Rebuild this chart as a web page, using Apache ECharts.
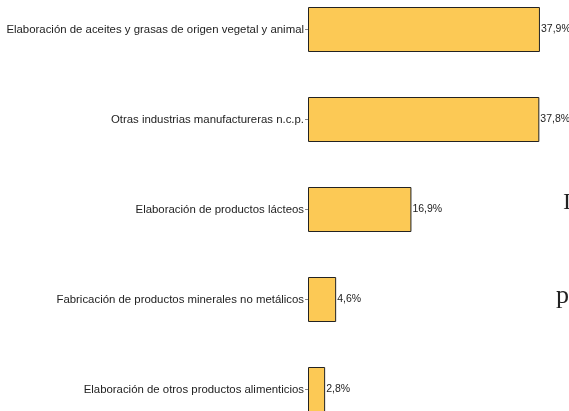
<!DOCTYPE html>
<html><head><meta charset="utf-8">
<script src="https://cdn.jsdelivr.net/npm/echarts@6/dist/echarts.min.js"></script>
<style>html,body{margin:0;padding:0;background:#fff;overflow:hidden;}#c{width:569px;height:470px;margin-top:-16px;}</style>
</head><body><div id="c"></div>
<script>
const categories = [
  "Elaboración de aceites y grasas de origen vegetal y animal",
  "Otras industrias manufactureras n.c.p.",
  "Elaboración de productos lácteos",
  "Fabricación de productos minerales no metálicos",
  "Elaboración de otros productos alimenticios"
];
const values = [37.9, 37.8, 16.9, 4.6, 2.8];

const chart = echarts.init(document.getElementById('c'), null, {renderer: 'canvas'});
chart.setOption({
  animation: false,
  backgroundColor: '#ffffff',
  grid: {left: 308, top: 0.5, width: 244.8, height: 450, containLabel: false},
  xAxis: {type: 'value', min: 0, max: 40, show: false},
  yAxis: {
    type: 'category', data: categories, inverse: true,
    axisLine: {show: false},
    axisTick: {show: true, alignWithLabel: true, length: 3, lineStyle: {color: '#888', width: 1}},
    axisLabel: {color: '#222', fontFamily: 'Liberation Sans, Arial, sans-serif', fontSize: 11.4, margin: 4}
  },
  series: [{
    type: 'bar', data: values, barWidth: 45,
    itemStyle: {color: '#FCC955', borderColor: '#222', borderWidth: 1},
    label: {show: true, position: 'right', distance: 1, color: '#222',
      fontFamily: 'Liberation Sans, Arial, sans-serif', fontSize: 10.5,
      formatter: p => p.value.toFixed(1).replace('.', ',') + '%'}
  }],
  graphic: [
    {type: 'text', left: 563, top: 207, style: {text: 'I', font: '24px "Liberation Serif", serif', fill: '#222'}},
    {type: 'text', left: 556, top: 299, style: {text: 'p', font: '26px "Liberation Serif", serif', fill: '#222'}}
  ]
});
</script></body></html>
